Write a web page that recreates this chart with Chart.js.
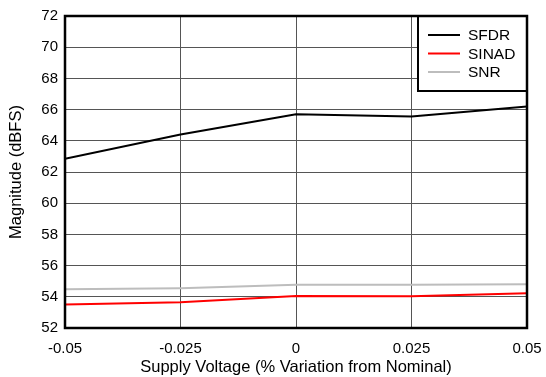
<!DOCTYPE html>
<html>
<head>
<meta charset="utf-8">
<script src="https://cdn.jsdelivr.net/npm/chart.js@4"></script>
<style>
  html, body { margin: 0; padding: 0; background: #fff; }
  #wrap { width: 546px; height: 377px; }
</style>
</head>
<body>
<div id="wrap"><canvas id="grafico" width="546" height="377"></canvas></div>
<script>
// =============================
// DATOS
// =============================
const xValores = [-0.05, -0.025, 0, 0.025, 0.05];
const xTicks = [-0.05, -0.025, 0, 0.025, 0.05];
const xTickLabels = ["-0.05", "-0.025", "0", "0.025", "0.05"];
const yTicks = [52, 54, 56, 58, 60, 62, 64, 66, 68, 70, 72];

const series = ["SFDR", "SINAD", "SNR"];
const sfdr = [62.85, 64.4, 65.7, 65.55, 66.2];
const sinad = [53.5, 53.65, 54.05, 54.03, 54.22];
const snr = [54.48, 54.55, 54.78, 54.77, 54.8];
const colores = ["#000000", "#ff0000", "#bdbdbd"];

const fuente = "'Liberation Sans', Arial, Helvetica, sans-serif";

function puntos(vals) {
  return vals.map((v, i) => ({ x: xValores[i], y: v }));
}

// =============================
// PLUGIN: marco + leyenda
// =============================
const marcoLeyenda = {
  id: "marcoLeyenda",
  afterDatasetsDraw(chart) {
    const { ctx, chartArea: a } = chart;
    ctx.save();
    // leyenda
    const lx = 418, ly = a.top, lw = a.right - 418, lh = 75;
    ctx.fillStyle = "#fff";
    ctx.fillRect(lx, ly, lw, lh);
    ctx.strokeStyle = "#000";
    ctx.lineWidth = 2;
    ctx.strokeRect(lx, ly, lw, lh);
    ctx.font = "15.5px " + fuente;
    ctx.textBaseline = "middle";
    chart.data.datasets.forEach((ds, i) => {
      const y = ly + 19 + i * 18.5;
      ctx.strokeStyle = ds.borderColor;
      ctx.lineWidth = 2;
      ctx.beginPath();
      ctx.moveTo(428, y);
      ctx.lineTo(460, y);
      ctx.stroke();
      ctx.fillStyle = "#000";
      ctx.fillText(ds.label, 468, y + 1);
    });
    // marco
    ctx.strokeStyle = "#000";
    ctx.lineWidth = 2.5;
    ctx.strokeRect(a.left, a.top, a.right - a.left, a.bottom - a.top);
    ctx.restore();
  }
};

// =============================
// GRÁFICO
// =============================
new Chart(document.getElementById("grafico"), {
  type: "line",
  data: {
    datasets: [
      { label: series[0], data: puntos(sfdr), borderColor: colores[0] },
      { label: series[1], data: puntos(sinad), borderColor: colores[1] },
      { label: series[2], data: puntos(snr), borderColor: colores[2] }
    ].map(d => Object.assign(d, { borderWidth: 2, pointRadius: 0, tension: 0, fill: false }))
  },
  options: {
    responsive: false,
    animation: false,
    layout: { padding: { top: 13, right: 19, left: 0, bottom: 0 } },
    plugins: {
      legend: { display: false },
      tooltip: { enabled: false }
    },
    scales: {
      x: {
        type: "linear",
        min: -0.05,
        max: 0.05,
        afterBuildTicks: s => { s.ticks = xTicks.map(v => ({ value: v })); },
        afterFit: s => { s.height = 49; s.paddingLeft = 0; s.paddingRight = 0; },
        grid: { color: "#555", lineWidth: 1, drawTicks: false },
        border: { display: false },
        ticks: {
          padding: 12,
          color: "#000",
          font: { family: fuente, size: 15 },
          maxRotation: 0,
          callback: (v) => {
            const i = xTicks.findIndex(t => Math.abs(t - v) < 1e-9);
            return i >= 0 ? xTickLabels[i] : "";
          }
        },
        title: {
          display: true,
          text: "Supply Voltage (% Variation from Nominal)",
          color: "#000",
          font: { family: fuente, size: 16.5 },
          padding: { top: 1, bottom: 0 }
        }
      },
      y: {
        min: 52,
        max: 72,
        afterBuildTicks: s => { s.ticks = yTicks.map(v => ({ value: v })); },
        afterFit: s => { s.width = 65; },
        grid: { color: "#555", lineWidth: 1, drawTicks: false },
        border: { display: false },
        ticks: {
          padding: 7,
          color: "#000",
          font: { family: fuente, size: 15 }
        },
        title: {
          display: true,
          text: "Magnitude (dBFS)",
          color: "#000",
          font: { family: fuente, size: 16.5 },
          padding: { top: 7, bottom: 0 }
        }
      }
    }
  },
  plugins: [marcoLeyenda]
});
</script>
</body>
</html>
